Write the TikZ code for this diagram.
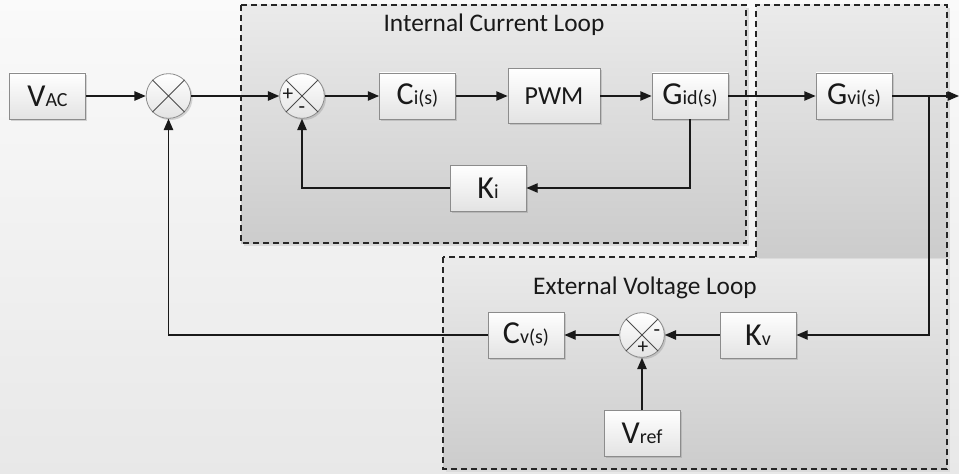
\documentclass[tikz,border=0pt]{standalone}
\usepackage{fontspec}
\setmainfont{Carlito}
\usetikzlibrary{arrows.meta,shadows}

\newcommand{\blklbl}[2]{{\fontsize{24}{24}\selectfont #1}{\fontsize{15}{15}\selectfont #2}}

\tikzset{
  blk/.style={draw=black!45, line width=0.6pt, top color=white, bottom color=black!11,
    minimum width=57pt, minimum height=34.5pt, inner sep=0pt, text=black!90,
    drop shadow={shadow xshift=1.3pt, shadow yshift=-1.3pt, opacity=0.3}},
  junc/.style={circle, draw=black!45, line width=0.6pt, top color=white, bottom color=black!11,
    minimum size=33.5pt, inner sep=0pt,
    drop shadow={shadow xshift=1.3pt, shadow yshift=-1.3pt, opacity=0.3}},
  sgn/.style={inner sep=0pt, font=\fontsize{16}{16}\selectfont, text=black!90},
  sig/.style={-{Triangle[length=8.5pt,width=7pt]}, line width=1.1pt, draw=black!90},
  panel/.style={top color=black!8, bottom color=black!20},
  dashln/.style={draw=black!85, line width=1.1pt, dash pattern=on 4.5pt off 3pt}
}

\begin{document}
\begin{tikzpicture}[x=0.75pt,y=0.75pt,yscale=-1,xscale=1]
\useasboundingbox (0,0) rectangle (959,474);
\shade [top color=black!2,bottom color=black!9] (0,0) rectangle (959,474);

\fill [black!14] (244,8) rectangle (749,246);
\shade [panel] (241,5) rectangle (746,243);
\draw [dashln] (241,5) rectangle (746,243);
\fill [black!14] (446,260) rectangle (950,472);
\shade [panel] (443,257) rectangle (947,469);
\draw [dashln] (443,257) rectangle (947,469);
\fill [black!14] (759,8) rectangle (950,259);
\shade [panel] (756,5) rectangle (947,257);
\draw [dashln] (756,257) -- (756,5) -- (947,5) -- (947,257);

\node (itl) at (494,25) [text=black!90] {\fontsize{19}{19}\selectfont Internal Current Loop};
\node (etl) at (645,288) [text=black!90] {\fontsize{19}{19}\selectfont External Voltage Loop};

\node (vac) at (47.5,96) [blk] {\blklbl{V}{AC}};
\node (mult) at (168.5,96) [junc] {};
\node (s1) at (302,96) [junc] {};
\node (ci) at (417.5,96) [blk] {\blklbl{C}{i(s)}};
\node (pwm) at (554,96) [blk, minimum width=69pt, minimum height=41pt] {\fontsize{19.5}{19.5}\selectfont PWM};
\node (gid) at (690,96) [blk] {\blklbl{G}{id(s)}};
\node (ki) at (488,188) [blk] {\blklbl{K}{i}};
\node (gvi) at (854,96) [blk] {\blklbl{G}{vi(s)}};
\node (cv) at (526,335) [blk] {\blklbl{C}{v(s)}};
\node (s2) at (642,335) [junc] {};
\node (kv) at (758,335) [blk] {\blklbl{K}{v}};
\node (vref) at (642,433) [blk] {\blklbl{V}{ref}};

\draw [black!70, line width=0.7pt] (mult.north west) -- (mult.south east) (mult.north east) -- (mult.south west);
\draw [black!70, line width=0.7pt] (s1.north west) -- (s1.south east) (s1.north east) -- (s1.south west);
\draw [black!70, line width=0.7pt] (s2.north west) -- (s2.south east) (s2.north east) -- (s2.south west);
\node (s1p) at (288,95) [sgn] {+};
\node (s1m) at (302,110) [sgn] {-};
\node (s2m) at (657,333) [sgn] {-};
\node (s2p) at (643,348) [sgn] {+};

\coordinate (br) at (929,96);
\coordinate (out) at (959,96);

\draw [sig] (vac) -- (mult);
\draw [sig] (mult) -- (s1);
\draw [sig] (s1) -- (ci);
\draw [sig] (ci) -- (pwm);
\draw [sig] (pwm) -- (gid);
\draw [sig] (gid) -- (gvi);
\draw [sig] (gvi) -- (out);
\draw [sig] (gid.south) |- (ki.east);
\draw [sig] (ki.west) -| (s1.south);
\draw [sig] (br) |- (kv.east);
\draw [sig] (kv) -- (s2);
\draw [sig] (s2) -- (cv);
\draw [sig] (vref) -- (s2);
\draw [sig] (cv.west) -| (mult.south);
\end{tikzpicture}
\end{document}
